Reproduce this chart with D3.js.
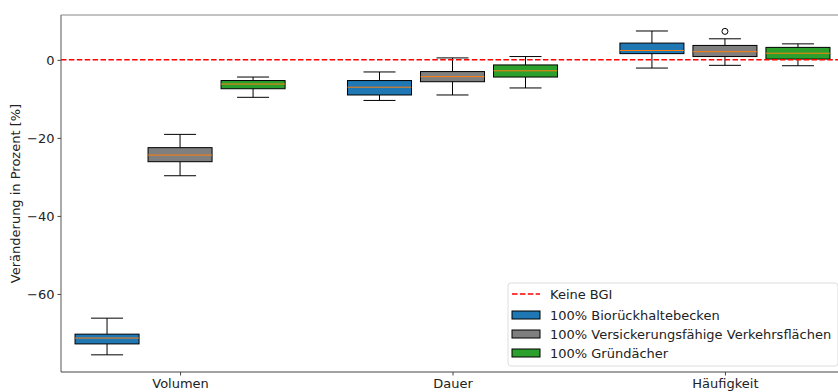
<!DOCTYPE html>
<html><head><meta charset="utf-8">
<script src="https://cdn.jsdelivr.net/npm/d3@7"></script>
<style>body{margin:0;background:#fff}svg{display:block;font-family:"DejaVu Sans",sans-serif}</style>
</head><body><svg id="c" width="838" height="392"></svg>
<script>
const categories = ["Volumen", "Dauer", "Häufigkeit"];
const seriesNames = ["100% Biorückhaltebecken", "100% Versickerungsfähige Verkehrsflächen", "100% Gründächer"];
const seriesColors = ["#1f77b4", "#7f7f7f", "#2ca02c"];
// [lowWhisker, q1, median, q3, highWhisker] per category
const bioValues = [[-75.6, -72.8, -71.3, -70.3, -66.2], [-10.4, -9.0, -7.0, -5.3, -3.1], [-2.1, 1.6, 2.4, 4.3, 7.4]];
const verkehrValues = [[-29.7, -26.1, -24.4, -22.5, -19.1], [-9.0, -5.6, -4.3, -3.0, 0.5], [-1.4, 0.85, 2.1, 3.7, 5.4]];
const gruenValues = [[-9.6, -7.4, -6.2, -5.3, -4.4], [-7.2, -4.4, -2.8, -1.3, 0.85], [-1.5, 0.2, 1.7, 3.2, 4.1]];
const outliers = [{series: 1, cat: 2, value: 7.3}];
const yTicks = [0, -20, -40, -60];
const refLabel = "Keine BGI";
const yLabel = "Veränderung in Prozent [%]";

const allSeries = [bioValues, verkehrValues, gruenValues];
const svg = d3.select("#c");
const L = 61, T = 15, B = 372, R = 844;
const x = d3.scaleLinear().domain([-0.437, 2.437]).range([L, R]);
const y = d3.scaleLinear().domain([-80, 11.5]).range([B, T]);
const off = [-0.268, 0, 0.268], bw = 0.235;

allSeries.forEach((ser, si) => {
  ser.forEach((v, ci) => {
    const cx = x(ci + off[si]);
    const x0 = x(ci + off[si] - bw / 2), x1 = x(ci + off[si] + bw / 2);
    const cw = (x1 - x0) / 4;
    const g = svg.append("g");
    g.append("line").attr("x1", cx).attr("x2", cx).attr("y1", y(v[0])).attr("y2", y(v[1])).attr("stroke", "#000").attr("stroke-width", 1);
    g.append("line").attr("x1", cx).attr("x2", cx).attr("y1", y(v[3])).attr("y2", y(v[4])).attr("stroke", "#000").attr("stroke-width", 1);
    g.append("line").attr("x1", cx - cw).attr("x2", cx + cw).attr("y1", y(v[0])).attr("y2", y(v[0])).attr("stroke", "#000");
    g.append("line").attr("x1", cx - cw).attr("x2", cx + cw).attr("y1", y(v[4])).attr("y2", y(v[4])).attr("stroke", "#000");
    g.append("rect").attr("x", x0).attr("width", x1 - x0).attr("y", y(v[3])).attr("height", y(v[1]) - y(v[3]))
      .attr("fill", seriesColors[si]).attr("stroke", "#000").attr("stroke-width", 1);
    g.append("line").attr("x1", x0).attr("x2", x1).attr("y1", y(v[2])).attr("y2", y(v[2])).attr("stroke", "#ff7f0e").attr("stroke-width", 1);
  });
});
outliers.forEach(o => {
  svg.append("circle").attr("cx", x(o.cat + off[o.series])).attr("cy", y(o.value)).attr("r", 3)
    .attr("fill", "none").attr("stroke", "#000").attr("stroke-width", 1);
});

// zero line
svg.append("line").attr("x1", L).attr("x2", 838).attr("y1", y(0)).attr("y2", y(0))
  .attr("stroke", "red").attr("stroke-width", 1.5).attr("stroke-dasharray", "5.5,2.4");

// axes
const yAxis = d3.axisLeft(y).tickValues(yTicks).tickSize(3.5).tickFormat(d => d < 0 ? "\u2212" + Math.abs(d) : d);
const gy = svg.append("g").attr("transform", `translate(${L},0)`).call(yAxis);
gy.select(".domain").remove();
gy.selectAll("text").attr("font-size", 13).attr("fill", "#222").attr("font-family", "DejaVu Sans");
gy.selectAll("line").attr("stroke", "#444");
const xAxis = d3.axisBottom(x).tickValues([0, 1, 2]).tickSize(3.5).tickFormat(i => categories[i]);
const gx = svg.append("g").attr("transform", `translate(0,${B})`).call(xAxis);
gx.select(".domain").remove();
gx.selectAll("text").attr("font-size", 13).attr("fill", "#222").attr("font-family", "DejaVu Sans").attr("dy", "0.75em");
gx.selectAll("line").attr("stroke", "#444");

// spines
svg.append("line").attr("x1", L).attr("x2", L).attr("y1", T).attr("y2", B).attr("stroke", "#555").attr("stroke-width", 1);
svg.append("line").attr("x1", L).attr("x2", 838).attr("y1", B).attr("y2", B).attr("stroke", "#444").attr("stroke-width", 1);
svg.append("line").attr("x1", L).attr("x2", 838).attr("y1", T).attr("y2", T).attr("stroke", "#888").attr("stroke-width", 1);

// y label
svg.append("text").attr("transform", `translate(20,${(T + B) / 2}) rotate(-90)`).attr("text-anchor", "middle")
  .attr("font-size", 13).attr("fill", "#222").text(yLabel);

// legend
const lg = svg.append("g");
lg.append("rect").attr("x", 508).attr("y", 283).attr("width", 330).attr("height", 83).attr("rx", 3)
  .attr("fill", "#fff").attr("fill-opacity", 0.8).attr("stroke", "#ddd");
const rowY = [294, 315, 334, 353];
lg.append("line").attr("x1", 512).attr("x2", 540).attr("y1", rowY[0]).attr("y2", rowY[0])
  .attr("stroke", "red").attr("stroke-width", 1.5).attr("stroke-dasharray", "5.5,2.4");
lg.append("text").attr("x", 550).attr("y", rowY[0]).attr("dy", "0.35em").attr("font-size", 13).attr("fill", "#222").text(refLabel);
seriesNames.forEach((n, i) => {
  lg.append("rect").attr("x", 512).attr("y", rowY[i + 1] - 4).attr("width", 28).attr("height", 8)
    .attr("fill", seriesColors[i]).attr("stroke", "#000").attr("stroke-width", 1);
  lg.append("text").attr("x", 550).attr("y", rowY[i + 1]).attr("dy", "0.35em").attr("font-size", 13).attr("fill", "#222").text(n);
});
</script></body></html>
